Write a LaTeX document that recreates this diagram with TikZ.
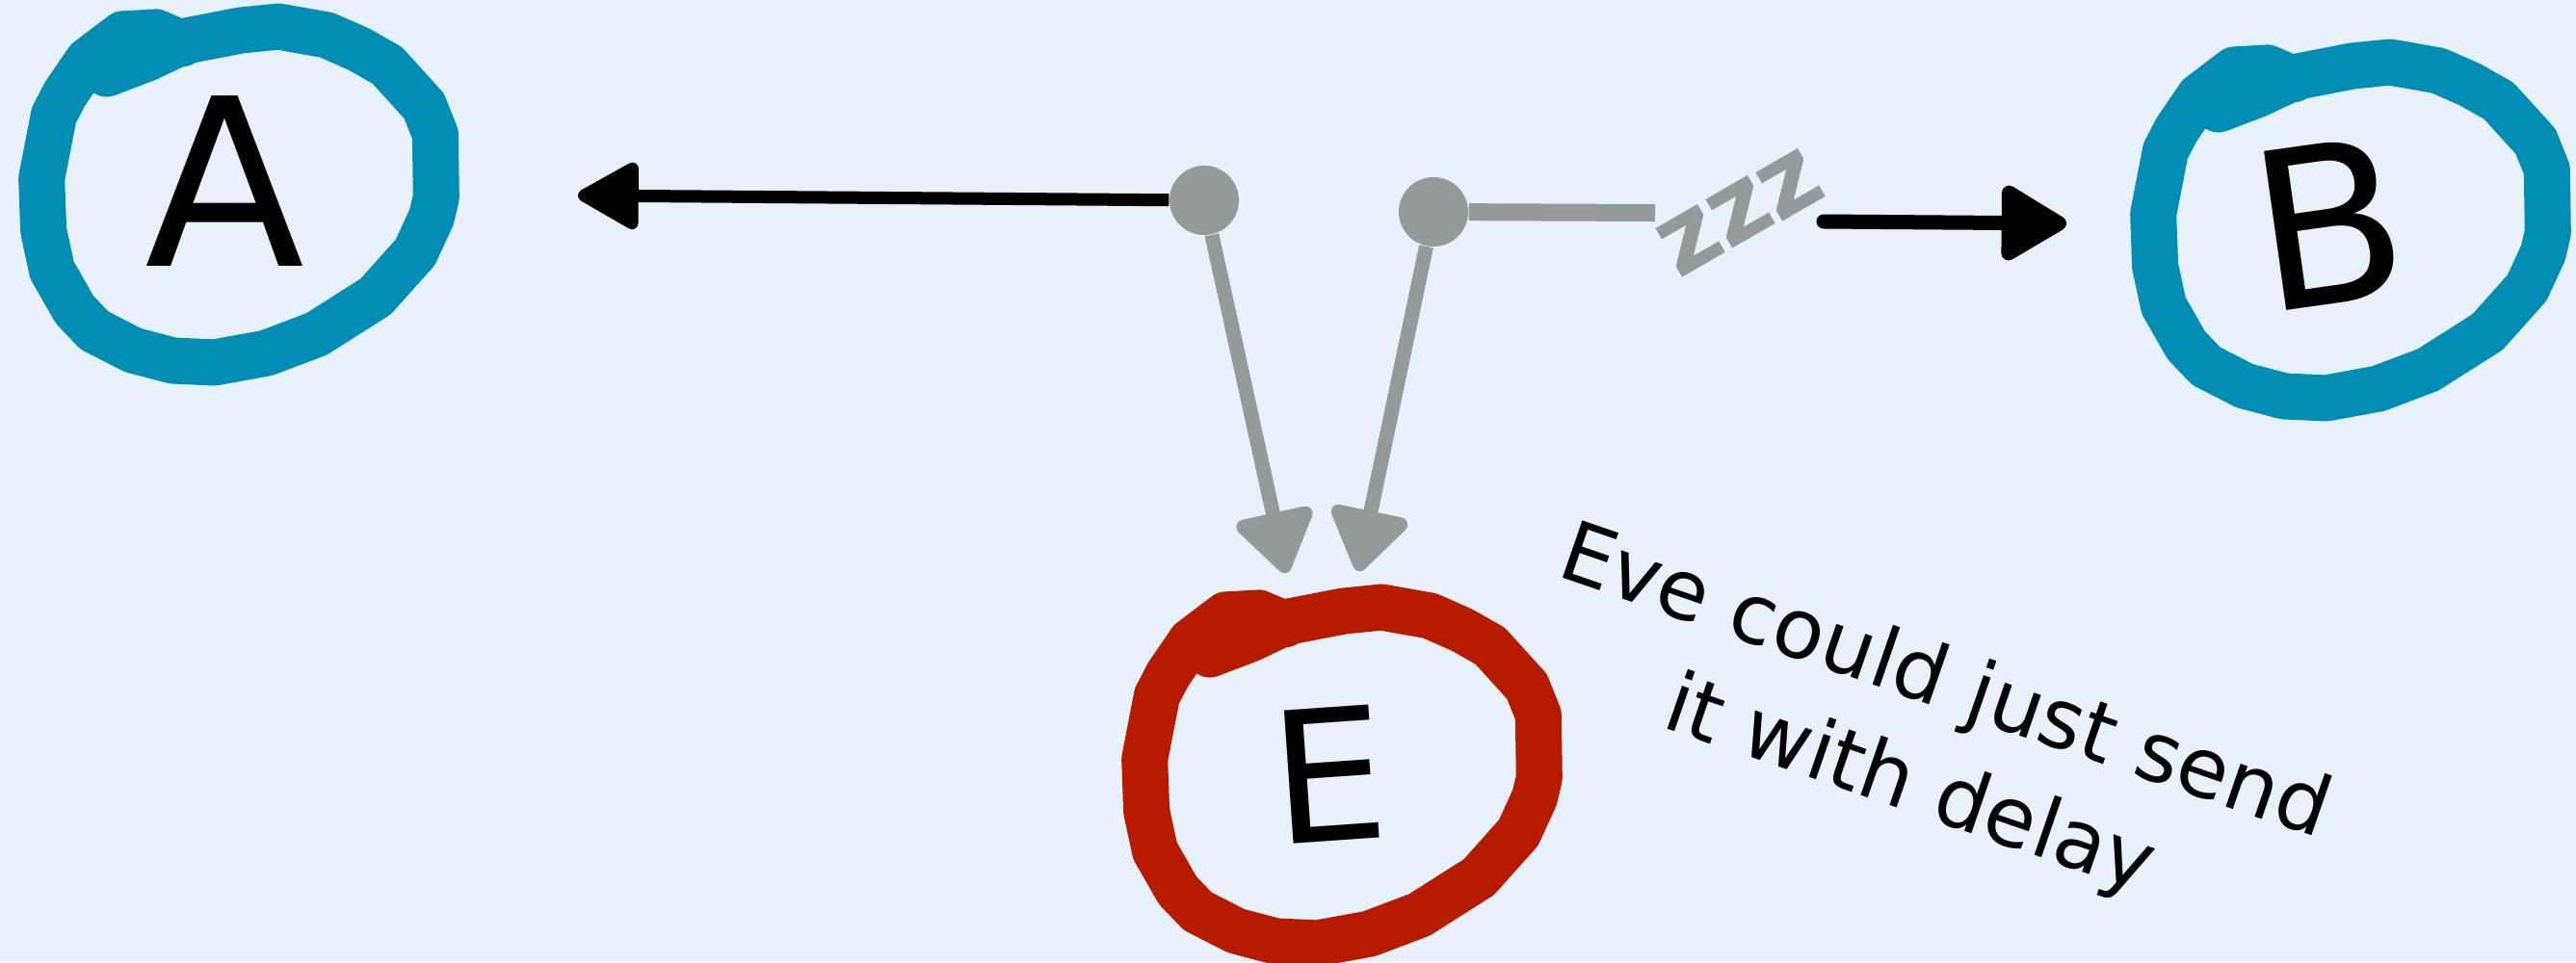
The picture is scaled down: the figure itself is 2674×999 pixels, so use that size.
\documentclass[tikz,border=0pt]{standalone}
\usepackage{fontspec}
\setmainfont{DejaVu Sans}
\usetikzlibrary{arrows.meta}
\definecolor{bgblue}{RGB}{232,241,250}
\definecolor{ringblue}{RGB}{2,142,180}
\definecolor{ringred}{RGB}{182,27,0}
\definecolor{wiregrey}{RGB}{148,154,153}

\begin{document}
\begin{tikzpicture}[
    x=0.01cm, y=-0.01cm,
    ringline/.style={line width=4.8mm, line join=round, line cap=round},
    letter/.style={inner sep=0pt, font=\fontsize{69}{69}\selectfont},
    dot/.style={circle, fill=wiregrey, minimum size=7.2mm, inner sep=0pt},
    blackwire/.style={line width=1.3mm, black},
    greywire/.style={line width=1.5mm, wiregrey},
    snore/.style={inner sep=0pt, text=wiregrey, rotate=30,
        font=\fontsize{30}{30}\selectfont\bfseries},
    remark/.style={align=center, rotate=-19, font=\fontsize{24.5}{32}\selectfont}
]
    \fill[bgblue] (0,0) rectangle (2674,999);
    \useasboundingbox (0,0) rectangle (2674,999);

    % the three parties
    \foreach \sx/\sy/\col in {0/0/ringblue, 2192/37/ringblue, 1145/603/ringred}
        \draw[ringline, draw=\col, shift={(\sx+248,\sy+202)}, scale=0.98, shift={(-248,-202)}]
            (108,74) -- (150,58) -- (188,40) -- (250,28) -- (290,24) -- (341,33)
            -- (375,48) -- (405,65) -- (444,108) -- (456,138) -- (457,205)
            -- (452,226) -- (435,263) -- (393,310) -- (330,350) -- (277,370)
            -- (222,380) -- (178,378) -- (136,367) -- (95,346) -- (74,324)
            -- (50,282) -- (41,240) -- (39,185) -- (52,118) -- (64,95)
            -- (88,60) -- (125,32) -- (160,30) -- (188,42);
    \node[letter] (A) at (233,188) {A};
    \node[letter, rotate=8, font=\fontsize{65}{65}\selectfont] (B) at (2418,232) {B};
    \node[letter, rotate=4, font=\fontsize{54}{54}\selectfont] (E) at (1380,804) {E};

    % the two taps
    \node[dot] (dotL) at (1250,208) {};
    \node[dot] (dotR) at (1488,220) {};

    \coordinate (tipA) at (600,203);
    \coordinate (tipB) at (2145,232);
    \coordinate (stubEnd) at (1718,221);
    \coordinate (wakeUp) at (1893,230);
    \coordinate (tipEL) at (1335,595);
    \coordinate (tipER) at (1410,593);

    \draw[blackwire, -{Triangle[length=7mm, width=7.5mm, round]}] (dotL) -- (tipA);
    \draw[greywire, -{Triangle[length=7mm, width=9mm, round]}] (dotL) -- (tipEL);
    \draw[greywire, -{Triangle[length=7mm, width=9mm, round]}] (dotR) -- (tipER);
    \draw[greywire, line width=1.8mm] (dotR) -- (stubEnd);
    \draw[blackwire, line width=1.5mm, line cap=round,
        -{Triangle[length=7.5mm, width=8.5mm, round]}] (wakeUp) -- (tipB);

    % delay
    \foreach \zx/\zy [count=\zi] in {1755/250, 1807/220, 1859/192}
        \node[snore] (z\zi) at (\zx,\zy) {z};

    \node[remark] (note) at (2000,765) {Eve could just send\\it with delay};
\end{tikzpicture}
\end{document}
